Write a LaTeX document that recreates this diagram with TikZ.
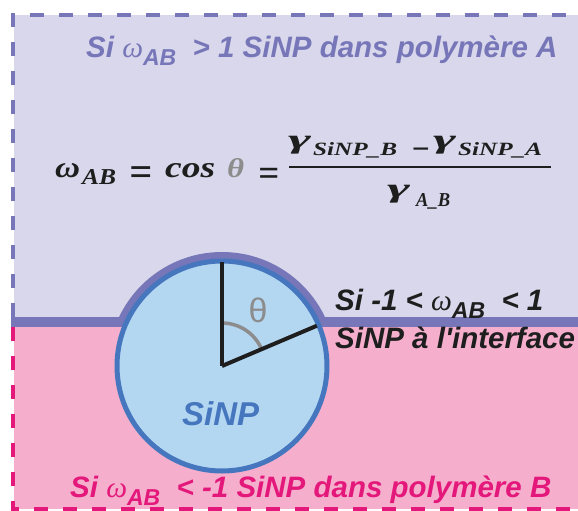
\documentclass[tikz,border=0pt]{standalone}
\usepackage{fontspec}
\setmainfont{Liberation Sans}
\setmonofont{Liberation Sans}
\newfontfamily\omfont{Liberation Serif}
\newfontfamily\eqfont{Liberation Serif}
\definecolor{lav}{HTML}{D9D7EB}
\definecolor{purp}{HTML}{7676B8}
\definecolor{pinkf}{HTML}{F5AFCD}
\definecolor{mag}{HTML}{E4177A}
\definecolor{cfill}{HTML}{B4D7F1}
\definecolor{ringc}{HTML}{4677BE}
\definecolor{thg}{HTML}{8C8C8C}
\definecolor{ink}{HTML}{1E1E1E}
\newcommand{\om}{{\omfont\itshape\mdseries ω}\raisebox{-0.3em}{\fontsize{23}{24}\selectfont AB}}
\newcommand{\apos}{{\ttfamily\bfseries\itshape '}}
\begin{document}
\begin{tikzpicture}[x=1pt,y=-1pt,
  lbl/.style={font=\fontsize{29.5}{33}\selectfont\bfseries\itshape, inner sep=0pt, anchor=base west},
  eq/.style={font=\fontsize{30}{34}\selectfont\eqfont\bfseries\itshape, inner sep=0pt, text=ink},
  bord/.style={line width=4pt, dash pattern=on 14pt off 15pt}]
\useasboundingbox (0,0) rectangle (578,511);
\fill[lav] (14,15) rectangle (578,322);
\fill[purp] (222,366) circle (114pt);
\fill[pinkf] (14,322) rectangle (578,509);
\draw[bord, purp] (13,317) -- (13,15) -- (578,15);
\draw[bord, mag] (13,327) -- (13,509) -- (578,509);
\fill[purp] (11,317) rectangle (578,327);
\node[circle, draw=ringc, line width=5pt, fill=cfill, minimum size=210pt, inner sep=0pt] (np) at (222,366) {};
\draw[thg, line width=3.5pt] (np.center) ++(90:43pt) arc[start angle=90, end angle=23, radius=43pt];
\draw[ink, line width=4pt] (np.center) -- ++(90:104pt);
\draw[ink, line width=4pt] (np.center) -- ++(23:103pt);
\node[thg, font=\fontsize{34}{38}\selectfont, inner sep=0pt] (th) at (258,310) {θ};
\node[lbl, ringc, font=\fontsize{33}{36}\selectfont\bfseries\itshape] (sinp) at (182,425) {SiNP};
\node[lbl, purp] (ta) at (86,57) {Si \om\ \ > 1 SiNP dans polymère A};
\node[lbl, ink] (ti1) at (335,310) {Si -1 < \om\ \ < 1};
\node[lbl, ink] (ti2) at (335,348) {SiNP à l\apos interface};
\node[lbl, mag] (tb) at (70,497) {Si \om\ \ < -1 SiNP dans polymère B};
% equation, left-hand side
\node[eq, anchor=base west] (w) at (55,177) {\resizebox{25pt}{14pt}{ω}};
\node[eq, anchor=base west] (wab) at (82,184) {\resizebox{34pt}{15pt}{AB}};
\node[eq, anchor=base west] (eq1) at (129,185) {\resizebox{23pt}{!}{=}};
\node[eq, anchor=base west] (cos) at (165,177) {\resizebox{50pt}{14pt}{cos}};
\node[eq, anchor=base west, text=thg] (thq) at (227,177) {\resizebox{17pt}{19pt}{θ}};
\node[eq, anchor=base west] (eq2) at (258,185) {\resizebox{21pt}{!}{=}};
% numerator
\node[eq, anchor=south west] (g1) at (288,154) {\resizebox*{23pt}{18pt}{γ}};
\node[eq, anchor=base west] (s1) at (313,155) {\resizebox{84pt}{13pt}{SiNP\_B}};
\node[eq, anchor=base west] (mi) at (411,159) {\resizebox{19pt}{!}{−}};
\node[eq, anchor=south west] (g2) at (433,154) {\resizebox*{23pt}{18pt}{γ}};
\node[eq, anchor=base west] (s2) at (458,155) {\resizebox{84pt}{13pt}{SiNP\_A}};
% fraction bar and denominator
\coordinate (barL) at (289,167);
\coordinate (barR) at (551,167);
\draw[ink, line width=2.2pt] (barL) -- (barR);
\node[eq, anchor=south west] (g3) at (387,203) {\resizebox*{23pt}{18pt}{γ}};
\node[eq, anchor=base west] (s3) at (416,206) {\resizebox{34pt}{13pt}{A\_B}};
\end{tikzpicture}
\end{document}
